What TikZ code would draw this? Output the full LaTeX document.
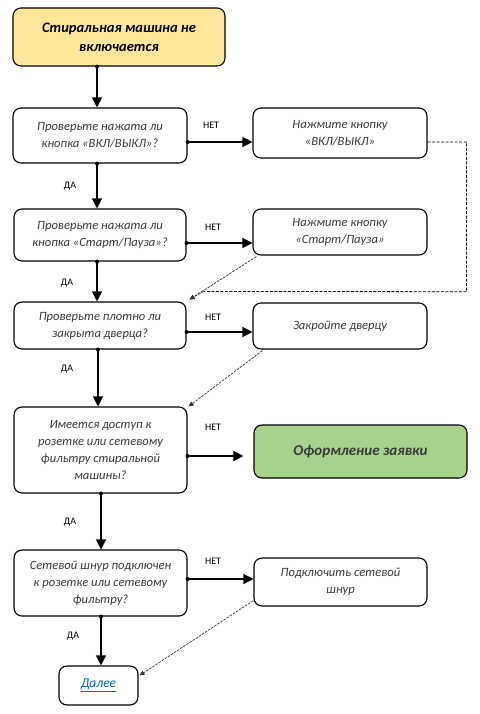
\documentclass[tikz,border=0pt]{standalone}
\usepackage{fontspec}
\setmainfont{Carlito}
\usetikzlibrary{calc,arrows.meta}
\definecolor{topfill}{HTML}{FFE699}
\definecolor{greenfill}{HTML}{A9D18E}
\definecolor{txt}{HTML}{3A3A3A}
\definecolor{linkblue}{HTML}{0563C1}
\tikzset{
  stepbox/.style={draw=black, line width=1.1pt, rounded corners=8pt, align=center,
    inner sep=0pt, text=txt, font=\itshape\fontsize{12.6}{17}\selectfont},
  flow/.style={line width=1.2pt, -{Triangle[length=10pt,width=10pt]}},
  back/.style={line width=0.7pt, draw=black!80, dash pattern=on 2.5pt off 1.2pt,
    -{Triangle[length=5pt,width=4.5pt]}},
  loopback/.style={line width=0.8pt, draw=black, dash pattern=on 3pt off 1.5pt},
  dot/.style={circle, fill=black, inner sep=0pt, minimum size=4pt},
  lbl/.style={font=\fontsize{10}{11}\selectfont, text=black}
}
\begin{document}
\begin{tikzpicture}[x=1pt,y=-1pt]
\useasboundingbox (0,0) rectangle (479,714);
\fill[white] (0,0) rectangle (479,714);

% left column: checks
\node[stepbox, fill=topfill, minimum width=212pt, minimum height=58pt, text=black,
  font=\bfseries\itshape\fontsize{14.5}{19}\selectfont] (t) at (119,37)
  {Стиральная машина не\\включается};
\node[stepbox, minimum width=174pt, minimum height=55pt] (b2) at (100,135.5)
  {Проверьте нажата ли\\кнопка «ВКЛ/ВЫКЛ»?};
\node[stepbox, minimum width=172pt, minimum height=52pt] (b3) at (100,235)
  {Проверьте нажата ли\\кнопка «Старт/Пауза»?};
\node[stepbox, minimum width=172pt, minimum height=47pt] (b4) at (100,325.5)
  {Проверьте плотно ли\\закрыта дверца?};
\node[stepbox, minimum width=173pt, minimum height=86pt] (b5) at (100.5,450)
  {Имеется доступ к\\розетке или сетевому\\фильтру стиральной\\машины?};
\node[stepbox, minimum width=173pt, minimum height=66pt] (b6) at (100.5,583)
  {Сетевой шнур подключен\\к розетке или сетевому\\фильтру?};
\node[stepbox, minimum width=79pt, minimum height=39pt,
  font=\itshape\fontsize{13.5}{17}\selectfont] (d) at (98.5,685.5)
  {\textcolor{linkblue}{\underline{Далее}}};

% right column: actions
\node[stepbox, minimum width=174pt, minimum height=50pt] (r1) at (340,133)
  {Нажмите кнопку\\«ВКЛ/ВЫКЛ»};
\node[stepbox, minimum width=174pt, minimum height=46pt] (r2) at (340,232)
  {Нажмите кнопку\\«Старт/Пауза»};
\node[stepbox, minimum width=174pt, minimum height=46pt] (r3) at (340,326)
  {Закройте дверцу};
\node[stepbox, fill=greenfill, minimum width=213pt, minimum height=53pt,
  font=\bfseries\itshape\fontsize{15}{18}\selectfont] (g) at (360.5,451.5)
  {Оформление заявки};
\node[stepbox, minimum width=173pt, minimum height=48pt] (r4) at (340.5,582)
  {Подключить сетевой\\шнур};

% "yes" branch, downwards
\coordinate (s1) at ($(t.south)+(-22,0)$);
\coordinate (s2) at ($(b2.south)+(-3,0)$);
\coordinate (s3) at ($(b3.south)+(-3,0)$);
\coordinate (s4) at ($(b4.south)+(-2,0)$);
\coordinate (s5) at ($(b5.south)+(0.5,0)$);
\coordinate (s6) at ($(b6.south)+(0.5,0)$);
\draw[flow] (s1) -- (s1 |- b2.north);
\draw[flow] (s2) -- (s2 |- b3.north);
\draw[flow] (s3) -- (s3 |- b4.north);
\draw[flow] (s4) -- (s4 |- b5.north);
\draw[flow] (s5) -- (s5 |- b6.north);
\draw[flow] (s6) -- (s6 |- d.north);
\foreach \c in {s1,s2,s3,s4,s5,s6} \node[dot] at (\c) {};

% "no" branch, to the right
\coordinate (e2) at ($(b2.east)+(0,6.5)$);
\coordinate (e3) at ($(b3.east)+(0,8)$);
\coordinate (e4) at ($(b4.east)+(0,6.5)$);
\coordinate (e5) at ($(b5.east)+(0,6)$);
\coordinate (e6) at ($(b6.east)+(0,-4)$);
\draw[flow] (e2) -- (e2 -| r1.west);
\draw[flow] (e3) -- (e3 -| r2.west);
\draw[flow] (e4) -- (e4 -| r3.west);
\draw[flow] (e5) -- ($(e5 -| g.west)+(-10,0)$);
\draw[flow] (e6) -- (e6 -| r4.west);
\foreach \c in {e2,e3,e4,e5,e6} \node[dot] at (\c) {};

% branch labels
\node[lbl] (n2) at (211,125) {НЕТ};
\node[lbl] (n3) at (213,227) {НЕТ};
\node[lbl] (n4) at (213,317) {НЕТ};
\node[lbl] (n5) at (213,427) {НЕТ};
\node[lbl] (n6) at (213,561) {НЕТ};
\node[lbl] (y2) at (70,186) {ДА};
\node[lbl] (y3) at (67,283) {ДА};
\node[lbl] (y4) at (67,369) {ДА};
\node[lbl] (y5) at (70,522) {ДА};
\node[lbl] (y6) at (73,636) {ДА};

% return paths after each action
\coordinate (j) at ($(b4.north east)+(3,-2)$);
\coordinate (jh) at ($(j)+(14,-8)$);
\draw[loopback] ($(r1.east)+(0,9)$) -| ($(r1.east)+(39,158.7)$) -- (jh);
\draw[back] (jh) -- (j);
\draw[back] ($(r2.south west)+(4,1)$) -- (j);
\draw[back] ($(r3.south west)+(10,1)$) -- ($(b5.north east)+(1,0)$);
\draw[back] ($(r4.south west)+(0,-6)$) -- ($(d.north east)+(1,10)$);
\end{tikzpicture}
\end{document}
